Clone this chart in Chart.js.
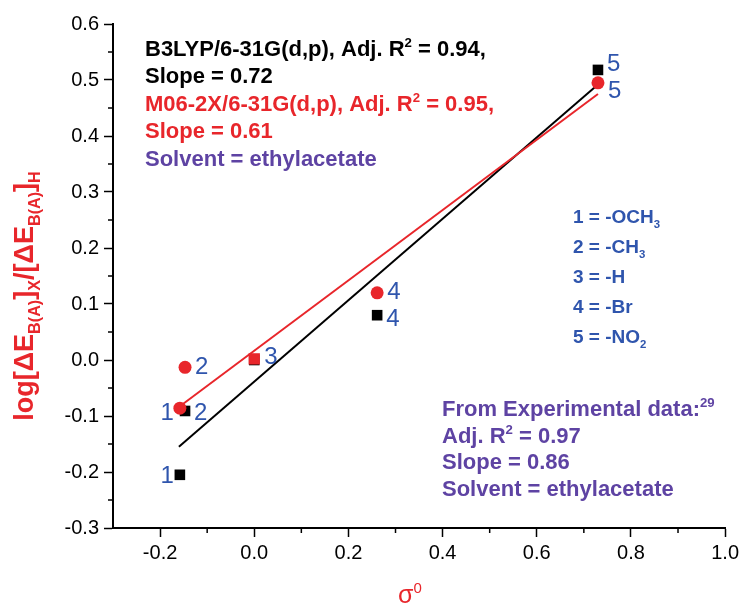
<!DOCTYPE html>
<html>
<head>
<meta charset="utf-8">
<script src="https://cdn.jsdelivr.net/npm/chart.js@4.4.0/dist/chart.umd.min.js"></script>
<style>
  html, body { margin: 0; padding: 0; background: #fff; }
  #wrap { width: 743px; height: 612px; }
</style>
</head>
<body>
<div id="wrap"><canvas id="chart" width="743" height="612"></canvas></div>
<script>
// substituent sigma0 values and log ratios
const sigma = [-0.158, -0.147, 0.0, 0.261, 0.73];
const logB3LYP = [-0.205, -0.091, 0.0, 0.080, 0.518];
const logM062X = [-0.086, -0.013, 0.002, 0.120, 0.495];
const pointLabels = ['1', '2', '3', '4', '5'];

// fitted line end points
const fitX = [-0.16, 0.73];
const fitB3LYP = [-0.155, 0.492];
const fitM062X = [-0.084, 0.475];

const xTicks = [-0.2, 0.0, 0.2, 0.4, 0.6, 0.8, 1.0];
const yTicks = [-0.3, -0.2, -0.1, 0.0, 0.1, 0.2, 0.3, 0.4, 0.5, 0.6];

const FONT = 'Arial, "Liberation Sans", sans-serif';
const RED = '#e8262b';
const BLUE = '#2f55ad';
const PURPLE = '#5e43a3';

function pts(xs, ys) {
    return xs.map((x, i) => ({ x: x, y: ys[i] }));
}

// draw a line of text made of runs (normal / sup / sub)
function drawRuns(ctx, x, y, runs, size, color, bold) {
    let cx = x;
    ctx.fillStyle = color;
    ctx.textAlign = 'left';
    ctx.textBaseline = 'alphabetic';
    runs.forEach(r => {
        let s = size, dy = 0;
        if (r.sup) { s = size * 0.6; dy = -size * 0.42; }
        if (r.sub) { s = size * 0.6; dy = size * 0.25; }
        ctx.font = (bold ? 'bold ' : '') + s + 'px ' + FONT;
        ctx.fillText(r.t, cx, y + dy);
        cx += ctx.measureText(r.t).width;
    });
    return cx - x;
}

const annotations = {
    id: 'annotations',
    beforeDraw(chart) {
        const ctx = chart.ctx;
        ctx.save();
        ctx.fillStyle = '#fff';
        ctx.fillRect(0, 0, chart.width, chart.height);
        ctx.restore();
    },
    afterDraw(chart) {
        const ctx = chart.ctx;
        const xs = chart.scales.x, ys = chart.scales.y;
        ctx.save();

        // minor ticks
        ctx.strokeStyle = '#000';
        ctx.lineWidth = 1.5;
        for (let v = -0.1; v < 1.0; v += 0.2) {
            const px = xs.getPixelForValue(v);
            ctx.beginPath(); ctx.moveTo(px, ys.bottom); ctx.lineTo(px, ys.bottom + 5); ctx.stroke();
        }
        for (let v = -0.25; v < 0.6; v += 0.1) {
            const py = ys.getPixelForValue(v);
            ctx.beginPath(); ctx.moveTo(xs.left, py); ctx.lineTo(xs.left - 5, py); ctx.stroke();
        }

        // point number labels
        ctx.font = '24px ' + FONT;
        ctx.fillStyle = BLUE;
        ctx.textBaseline = 'middle';
        const bSide = ['l', 'r', '', 'r', 'r'];
        const bDy = [2, 2, 0, 4, -6];
        const rSide = ['l', 'r', 'r', 'r', 'r'];
        const rDy = [5, 0, -2, 0, 9];
        sigma.forEach((s, i) => {
            const px = xs.getPixelForValue(s);
            if (bSide[i]) {
                const py = ys.getPixelForValue(logB3LYP[i]);
                ctx.textAlign = bSide[i] === 'l' ? 'right' : 'left';
                ctx.fillText(pointLabels[i], px + (bSide[i] === 'l' ? -6 : 9), py + bDy[i]);
            }
            const py = ys.getPixelForValue(logM062X[i]);
            ctx.textAlign = rSide[i] === 'l' ? 'right' : 'left';
            ctx.fillText(pointLabels[i], px + (rSide[i] === 'l' ? -6 : 10), py + rDy[i]);
        });

        // top-left notes
        drawRuns(ctx, 145, 56, [{ t: 'B3LYP/6-31G(d,p), Adj. R' }, { t: '2', sup: true }, { t: ' = 0.94,' }], 22, '#000', true);
        drawRuns(ctx, 145, 83, [{ t: 'Slope = 0.72' }], 22, '#000', true);
        drawRuns(ctx, 145, 111, [{ t: 'M06-2X/6-31G(d,p), Adj. R' }, { t: '2', sup: true }, { t: ' = 0.95,' }], 22, RED, true);
        drawRuns(ctx, 145, 138, [{ t: 'Slope = 0.61' }], 22, RED, true);
        drawRuns(ctx, 145, 166, [{ t: 'Solvent = ethylacetate' }], 22, PURPLE, true);

        // substituent key
        drawRuns(ctx, 573, 223, [{ t: '1 = -OCH' }, { t: '3', sub: true }], 19, BLUE, true);
        drawRuns(ctx, 573, 253, [{ t: '2 = -CH' }, { t: '3', sub: true }], 19, BLUE, true);
        drawRuns(ctx, 573, 283, [{ t: '3 = -H' }], 19, BLUE, true);
        drawRuns(ctx, 573, 313, [{ t: '4 = -Br' }], 19, BLUE, true);
        drawRuns(ctx, 573, 343, [{ t: '5 = -NO' }, { t: '2', sub: true }], 19, BLUE, true);

        // experimental notes
        drawRuns(ctx, 442, 416, [{ t: 'From Experimental data:' }, { t: '29', sup: true }], 22, PURPLE, true);
        drawRuns(ctx, 442, 443, [{ t: 'Adj. R' }, { t: '2', sup: true }, { t: ' = 0.97' }], 22, PURPLE, true);
        drawRuns(ctx, 442, 469, [{ t: 'Slope = 0.86' }], 22, PURPLE, true);
        drawRuns(ctx, 442, 496, [{ t: 'Solvent = ethylacetate' }], 22, PURPLE, true);

        // axis titles
        drawRuns(ctx, 398, 603, [{ t: 'σ' }, { t: '0', sup: true }], 25, RED, false);

        ctx.save();
        ctx.translate(33, 296);
        ctx.rotate(-Math.PI / 2);
        const yRuns = [
            { t: 'log[ΔE' }, { t: 'B(A)', sub: true }, { t: ']' }, { t: 'X', sub: true },
            { t: '/[ΔE' }, { t: 'B(A)', sub: true }, { t: ']' }, { t: 'H', sub: true }
        ];
        // measure first, then centre
        const w = drawRuns(ctx, -10000, 0, yRuns, 27, 'rgba(0,0,0,0)', true);
        drawRuns(ctx, -w / 2, 0, yRuns, 27, RED, true);
        ctx.restore();

        ctx.restore();
    }
};

const axisTicks = {
    color: '#000',
    font: { family: FONT, size: 20 },
};

new Chart(document.getElementById('chart'), {
    type: 'scatter',
    data: {
        datasets: [
            {
                label: 'B3LYP fit',
                type: 'line',
                data: pts(fitX, fitB3LYP),
                borderColor: '#000',
                borderWidth: 2,
                pointRadius: 0,
                fill: false,
                order: 4
            },
            {
                label: 'M06-2X fit',
                type: 'line',
                data: pts(fitX, fitM062X),
                borderColor: RED,
                borderWidth: 2,
                pointRadius: 0,
                fill: false,
                order: 3
            },
            {
                label: 'B3LYP/6-31G(d,p)',
                data: pts(sigma, logB3LYP),
                pointStyle: 'rect',
                pointRadius: 7.5,
                backgroundColor: '#000',
                borderColor: '#000',
                borderWidth: 0,
                order: 2
            },
            {
                label: 'M06-2X/6-31G(d,p)',
                data: pts(sigma, logM062X),
                pointStyle: ['circle', 'circle', 'rect', 'circle', 'circle'],
                pointRadius: [6.5, 6.5, 8, 6.5, 6.5],
                backgroundColor: RED,
                borderColor: RED,
                borderWidth: 0,
                order: 1
            }
        ]
    },
    options: {
        responsive: false,
        animation: false,
        layout: { padding: { top: 24, right: 16, left: 0, bottom: 0 } },
        plugins: {
            legend: { display: false },
            tooltip: { enabled: false }
        },
        scales: {
            x: {
                type: 'linear',
                min: -0.3,
                max: 1.0,
                afterBuildTicks: s => { s.ticks = xTicks.map(v => ({ value: v })); },
                afterFit: s => { s.height = 84; },
                ticks: Object.assign({ padding: 4, maxRotation: 0, callback: v => v.toFixed(1) }, axisTicks),
                grid: { drawOnChartArea: false, tickLength: 9, tickWidth: 1.5, tickColor: '#000' },
                border: { display: true, color: '#000', width: 2 }
            },
            y: {
                type: 'linear',
                min: -0.3,
                max: 0.6,
                afterBuildTicks: s => { s.ticks = yTicks.map(v => ({ value: v })); },
                afterFit: s => { s.width = 113; },
                ticks: Object.assign({ padding: 5, callback: v => v.toFixed(1) }, axisTicks),
                grid: { drawOnChartArea: false, tickLength: 9, tickWidth: 1.5, tickColor: '#000' },
                border: { display: true, color: '#000', width: 2 }
            }
        }
    },
    plugins: [annotations]
});
</script>
</body>
</html>
